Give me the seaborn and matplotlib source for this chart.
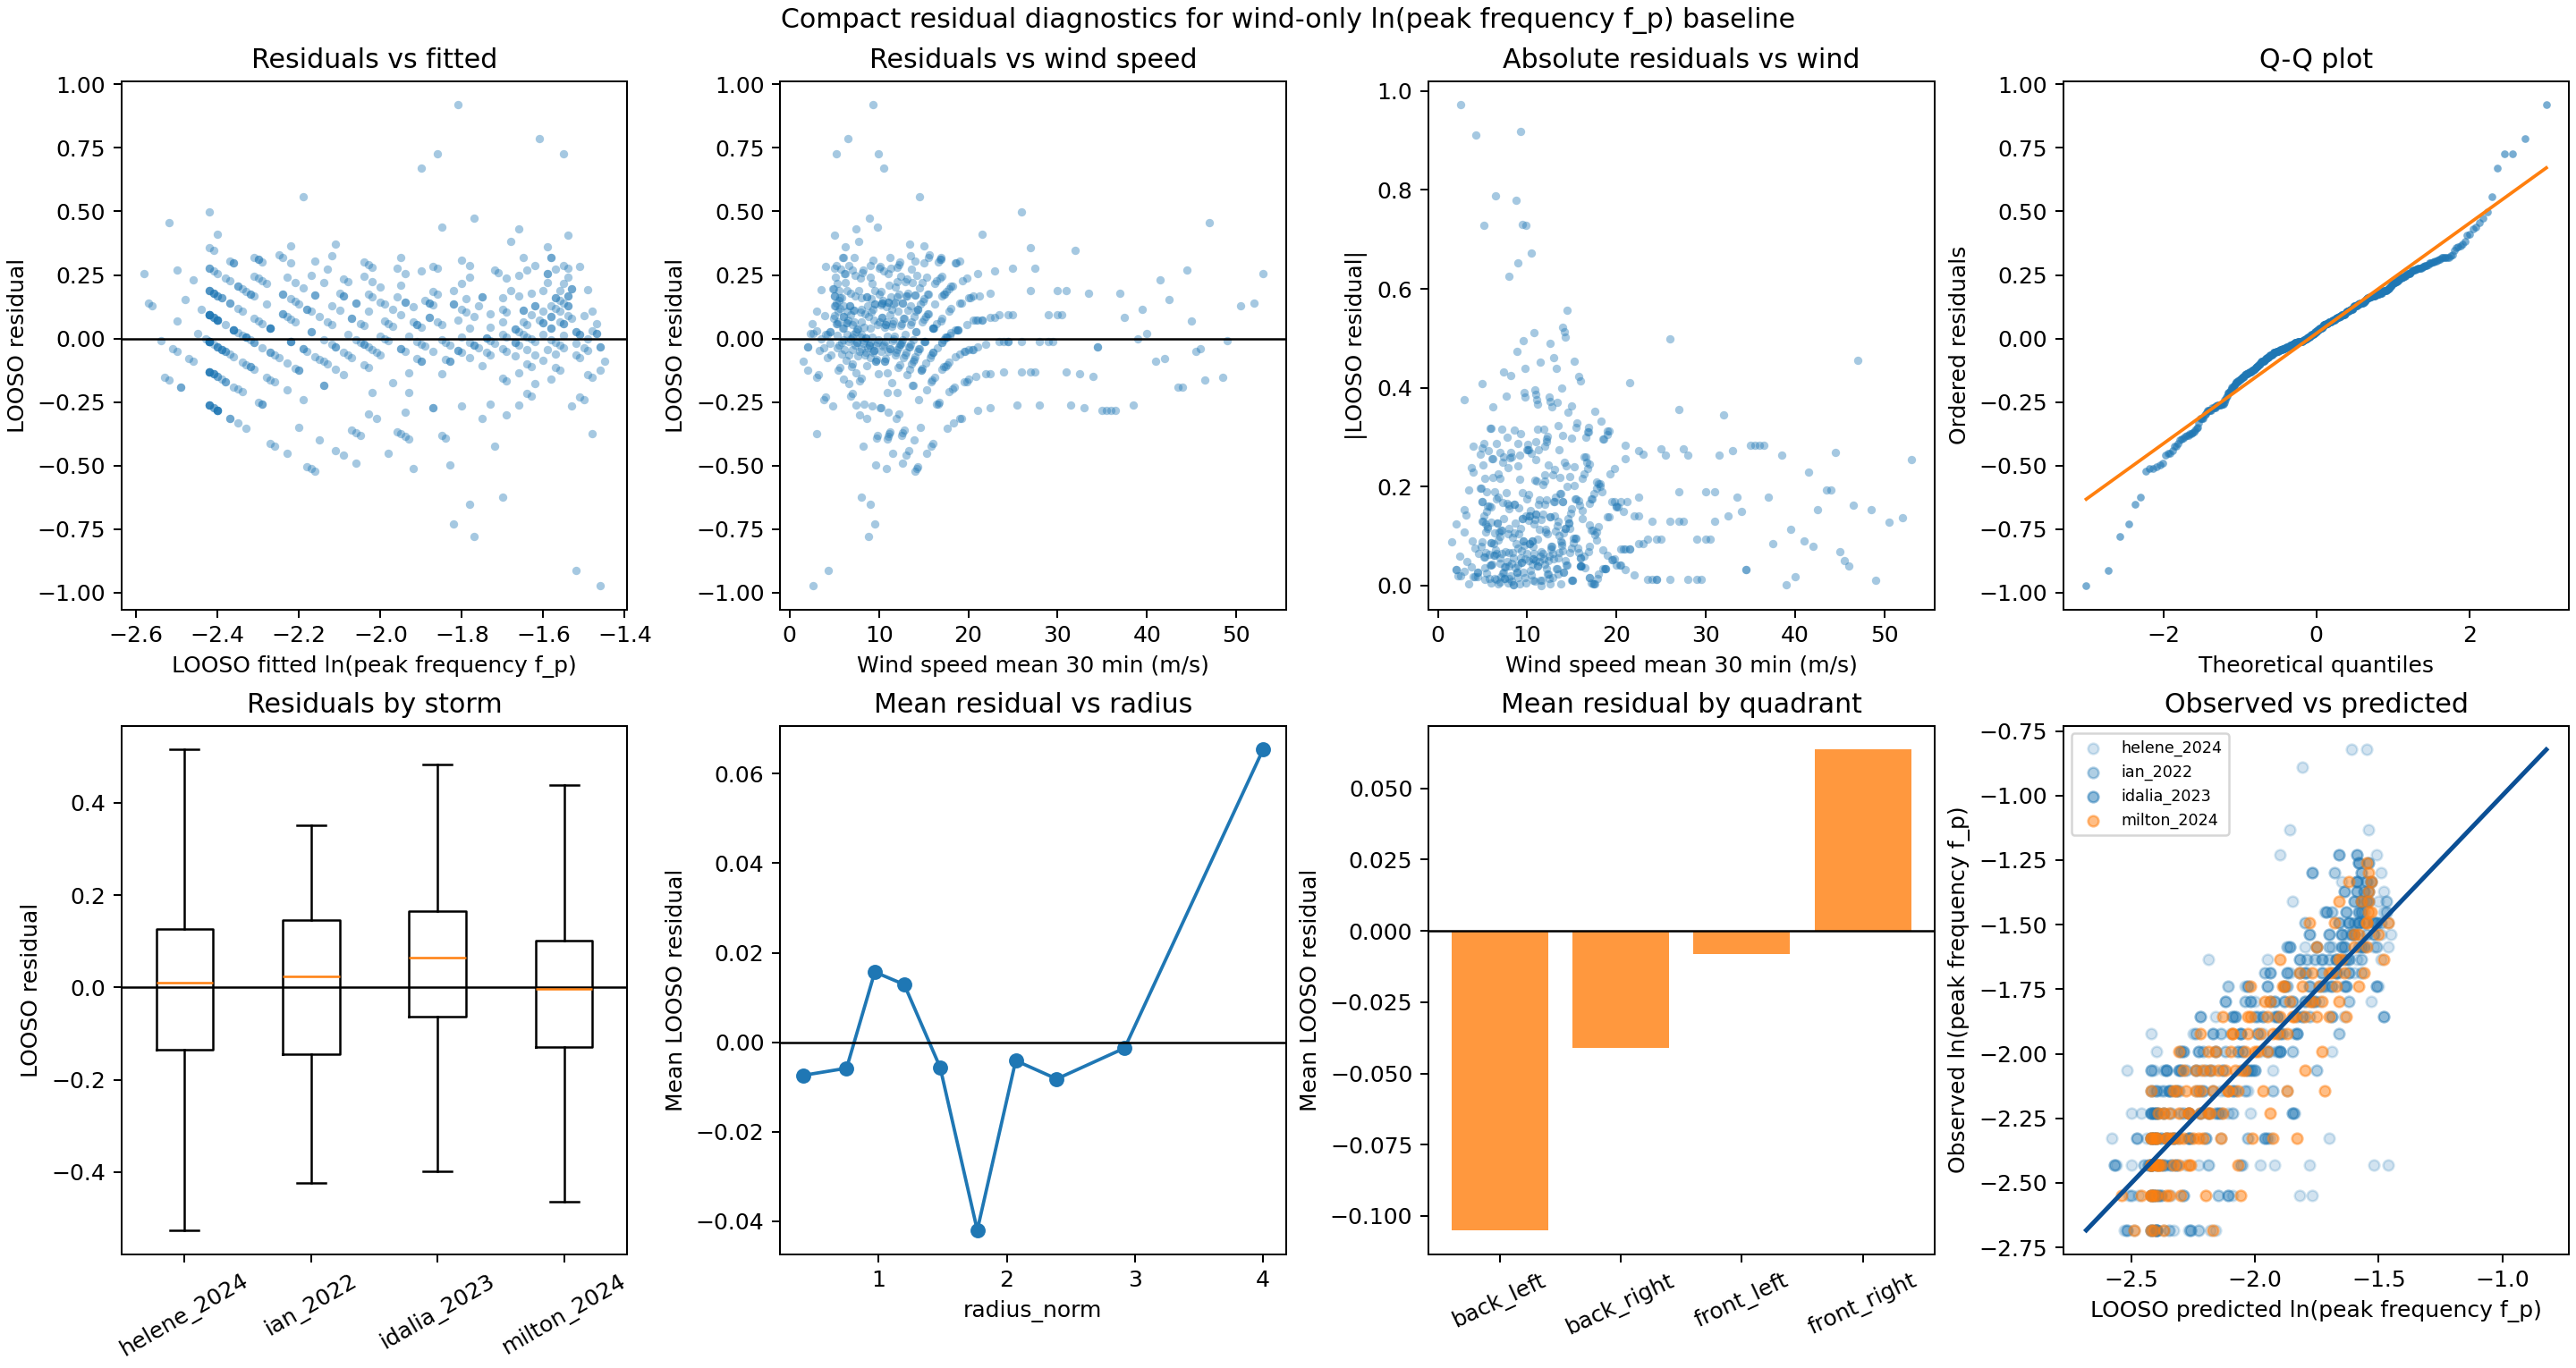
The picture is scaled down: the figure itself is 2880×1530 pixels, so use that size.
import numpy as np
import pandas as pd
import matplotlib
matplotlib.use("Agg")
import matplotlib.pyplot as plt
from matplotlib.ticker import MultipleLocator
import seaborn as sns
from statistics import NormalDist

# observed ln(f_p) levels (discrete spectral bins)
obs_levels = [-2.683, -2.550, -2.432, -2.326, -2.231, -2.144, -2.064, -1.990,
              -1.921, -1.856, -1.796, -1.739, -1.685, -1.633, -1.585, -1.538,
              -1.493, -1.451, -1.410, -1.371, -1.333, -1.297, -1.262, -1.228,
              -1.132, -1.103, -0.891, -0.822]

storms = ["helene_2024", "ian_2022", "idalia_2023", "milton_2024"]

# per storm: wind speed, LOOSO fitted ln(f_p), index into obs_levels
helene_wind = [
    1.5, 2.0, 2.3, 2.6, 3.0, 3.2, 3.5, 3.8, 4.0, 4.3,
    4.5, 4.8, 5.2, 5.0, 5.5, 6.0, 6.3, 6.5, 6.8, 7.0,
    7.2, 7.5, 7.8, 8.2, 8.5, 8.8, 9.3, 9.2, 9.5, 9.6,
    9.8, 10.0, 10.2, 9.9, 10.5, 10.7, 11.0, 11.2, 11.5, 11.8,
    12.0, 12.3, 12.6, 13.0, 13.2, 14.5, 13.5, 13.8, 14.0, 14.3,
    15.0, 15.3, 15.6, 16.0, 16.4, 16.8, 17.2, 17.6, 18.0, 18.5,
    19.0, 19.5, 20.0, 20.5, 21.0, 21.5, 22.0, 23.0, 24.0, 25.0,
    26.0, 27.0, 28.0, 29.0, 30.5, 32.0, 33.0, 34.0, 35.5, 36.5,
    37.0, 38.5, 41.5, 42.0, 43.5, 44.5, 46.0, 47.0, 48.5, 50.5,
    53.0, 9.0, 10.8, 11.5, 12.5, 8.0, 16.0, 14.0, 19.0,
    2.0, 2.6, 3.3, 3.9, 4.6, 5.4, 6.1, 6.7, 7.3, 7.9,
    8.5, 9.1, 9.7, 10.3, 10.9, 11.4, 12.1, 12.7, 13.4, 14.1,
    14.7, 15.4, 16.2, 16.9, 17.8, 18.7, 19.8, 21.0, 22.5, 24.5,
    27.5, 31.0, 34.5, 39.5, 45.0, 8.0, 9.4, 11.0, 12.4, 13.8,
    15.0, 17.0, 5.9, 4.2, 3.0, 7.0,
]
helene_fit = [
    -1.45, -1.46, -1.47, -1.46, -1.48, -1.49, -1.49, -1.50, -1.51, -1.52,
    -1.52, -1.53, -1.55, -1.54, -1.56, -1.58, -1.60, -1.61, -1.63, -1.64,
    -1.65, -1.67, -1.69, -1.72, -1.74, -1.77, -1.81, -1.80, -1.82, -1.83,
    -1.85, -1.86, -1.87, -1.86, -1.90, -1.91, -1.94, -1.95, -1.98, -2.00,
    -2.02, -2.04, -2.06, -2.09, -2.10, -2.19, -2.12, -2.14, -2.16, -2.18,
    -2.22, -2.23, -2.25, -2.27, -2.29, -2.30, -2.32, -2.33, -2.35, -2.36,
    -2.37, -2.38, -2.39, -2.40, -2.40, -2.40, -2.41, -2.41, -2.42, -2.42,
    -2.42, -2.42, -2.42, -2.42, -2.42, -2.41, -2.41, -2.40, -2.40, -2.40,
    -2.41, -2.42, -2.46, -2.47, -2.49, -2.50, -2.51, -2.52, -2.53, -2.56,
    -2.58, -1.78, -1.92, -1.98, -2.05, -1.70, -2.27, -2.16, -2.37,
    -1.46, -1.47, -1.49, -1.50, -1.52, -1.56, -1.59, -1.62, -1.66, -1.69,
    -1.74, -1.79, -1.84, -1.88, -1.93, -1.97, -2.03, -2.07, -2.11, -2.17,
    -2.20, -2.24, -2.28, -2.30, -2.34, -2.36, -2.38, -2.40, -2.41, -2.42,
    -2.42, -2.42, -2.40, -2.44, -2.50, -1.70, -1.81, -1.94, -2.04, -2.14,
    -2.22, -2.31, -1.58, -1.51, -1.48, -1.64,
]
helene_level = [
    15, 14, 17, 2, 19, 13, 21, 11, 23, 2,
    16, 10, 27, 24, 18, 22, 12, 27, 15, 9,
    20, 13, 7, 17, 11, 1, 26, 14, 1, 8,
    18, 12, 5, 24, 23, 9, 3, 13, 7, 10,
    4, 11, 6, 1, 8, 13, 5, 3, 9, 0,
    6, 2, 8, 4, 1, 7, 3, 0, 5, 2,
    6, 1, 4, 3, 0, 7, 2, 5, 1, 3,
    8, 4, 0, 2, 3, 6, 0, 1, 0, 0,
    4, 0, 4, 1, 0, 4, 1, 6, 0, 2,
    3, 2, 2, 2, 2, 3, 0, 0, 0,
    16, 17, 15, 18, 14, 17, 13, 16, 12, 14,
    10, 12, 8, 10, 6, 8, 5, 7, 4, 6,
    3, 5, 2, 4, 1, 3, 5, 2, 4, 3,
    1, 4, 2, 3, 2, 11, 9, 7, 6, 5,
    4, 3, 15, 16, 17, 13,
]

ian_wind = [
    3.5, 4.2, 5.0, 5.6, 6.2, 6.6, 7.1, 7.4, 7.9, 8.3,
    8.6, 9.1, 9.4, 9.7, 10.1, 10.3, 10.6, 10.9, 11.3, 11.6,
    11.9, 12.2, 12.4, 12.8, 13.1, 13.4, 13.7, 14.1, 14.4, 14.8,
    15.1, 15.5, 15.8, 16.2, 16.6, 17.0, 17.4, 17.8, 18.3, 18.8,
    19.3, 19.8, 20.4, 21.2, 22.5, 23.5, 25.5, 27.5, 29.5, 31.0,
    33.5, 36.0, 40.0, 45.5, 2.5, 6.0, 8.0, 9.9, 11.1, 12.6,
    13.9, 15.3, 16.9, 18.6, 20.8, 7.7, 9.3, 10.8, 14.6, 17.6,
    4.5, 5.3, 6.0, 6.8, 7.5, 8.2, 8.9, 9.6, 10.4, 11.2,
    12.0, 12.9, 13.8, 14.7, 16.0, 17.2, 18.0, 19.5, 6.4, 7.2,
    8.0, 8.7, 9.5, 10.2, 11.0, 11.8, 12.6, 13.5, 14.3, 15.2,
    16.4, 17.8, 21.5, 24.5, 5.8, 7.0, 9.0, 10.7, 12.3, 14.0,
]
ian_fit = [
    -1.49, -1.51, -1.54, -1.57, -1.59, -1.62, -1.65, -1.66, -1.69, -1.73,
    -1.75, -1.79, -1.81, -1.84, -1.87, -1.88, -1.90, -1.93, -1.96, -1.99,
    -2.01, -2.03, -2.04, -2.07, -2.09, -2.11, -2.14, -2.17, -2.19, -2.21,
    -2.22, -2.24, -2.26, -2.28, -2.29, -2.31, -2.32, -2.34, -2.35, -2.36,
    -2.37, -2.38, -2.39, -2.40, -2.41, -2.42, -2.42, -2.42, -2.42, -2.42,
    -2.41, -2.40, -2.45, -2.50, -1.47, -1.58, -1.70, -1.85, -1.95, -2.06,
    -2.15, -2.23, -2.30, -2.36, -2.40, -1.68, -1.80, -1.92, -2.20, -2.33,
    -1.52, -1.55, -1.58, -1.63, -1.67, -1.72, -1.77, -1.83, -1.89, -1.95,
    -2.02, -2.08, -2.14, -2.20, -2.27, -2.32, -2.35, -2.38, -1.60, -1.65,
    -1.70, -1.76, -1.82, -1.87, -1.94, -2.00, -2.06, -2.12, -2.18, -2.23,
    -2.29, -2.34, -2.40, -2.42, -1.57, -1.64, -1.78, -1.91, -2.04, -2.16,
]
ian_level = [
    16, 14, 18, 12, 20, 10, 15, 8, 17, 11,
    6, 13, 9, 4, 14, 10, 7, 5, 12, 9,
    6, 3, 10, 7, 4, 11, 8, 5, 2, 7,
    4, 8, 3, 6, 1, 5, 2, 4, 0, 3,
    5, 1, 2, 4, 1, 3, 0, 5, 2, 1,
    4, 0, 2, 1, 18, 16, 13, 7, 3, 2,
    1, 0, 7, 6, 3, 21, 16, 9, 6, 3,
    16, 15, 14, 13, 12, 11, 10, 9, 8, 7,
    6, 5, 4, 3, 3, 2, 3, 2, 16, 15,
    14, 13, 12, 11, 10, 9, 8, 7, 6, 5,
    4, 5, 3, 2, 13, 11, 9, 7, 5, 4,
]

idalia_wind = [
    4.8, 5.0, 5.2, 5.4, 5.5, 5.7, 5.8, 6.0, 6.1, 6.3,
    6.4, 6.6, 6.7, 6.9, 7.0, 7.2, 7.5, 7.8, 8.1, 8.4,
    8.7, 9.0, 9.3, 9.6, 10.0, 10.3, 10.6, 11.0, 11.4, 11.8,
    12.2, 12.6, 13.0, 13.5, 14.0, 14.5, 15.0, 15.5, 16.0, 16.6,
    17.2, 17.8, 18.5, 19.2, 20.0, 21.0, 22.5, 24.5, 27.0, 30.0,
    32.5, 35.0, 39.0, 42.5, 46.5, 52.0, 7.4, 8.9, 3.0, 4.0,
    11.2, 13.3, 15.8, 9.8, 6.2, 5.9, 12.9, 17.0, 19.8, 10.8,
    5.0, 5.3, 5.6, 5.8, 6.0, 6.2, 6.5, 6.8, 7.0, 7.3,
    7.6, 8.0, 8.3, 8.6, 9.0, 9.5, 9.8, 10.2, 10.7, 11.1,
    11.6, 12.0, 12.5, 13.1, 13.6, 14.2, 14.8, 15.3, 16.0, 16.8,
    17.5, 18.2, 19.0, 20.5, 23.0, 26.0, 4.5, 4.0, 5.5, 6.6,
    7.8, 9.2, 10.5, 12.2, 13.9,
]
idalia_fit = [
    -1.53, -1.54, -1.55, -1.56, -1.56, -1.57, -1.57, -1.58, -1.59, -1.60,
    -1.60, -1.62, -1.62, -1.63, -1.64, -1.65, -1.67, -1.69, -1.71, -1.73,
    -1.76, -1.78, -1.80, -1.83, -1.86, -1.88, -1.90, -1.94, -1.97, -2.00,
    -2.03, -2.06, -2.09, -2.12, -2.16, -2.19, -2.22, -2.24, -2.27, -2.29,
    -2.32, -2.34, -2.36, -2.37, -2.39, -2.40, -2.41, -2.42, -2.42, -2.42,
    -2.41, -2.40, -2.43, -2.48, -2.52, -2.57, -1.66, -1.77, -1.48, -1.51,
    -1.96, -2.11, -2.26, -1.85, -1.59, -1.58, -2.08, -2.31, -2.38, -1.92,
    -1.54, -1.55, -1.57, -1.57, -1.58, -1.59, -1.61, -1.63, -1.64, -1.66,
    -1.67, -1.70, -1.73, -1.75, -1.78, -1.82, -1.85, -1.87, -1.91, -1.95,
    -1.99, -2.02, -2.05, -2.09, -2.13, -2.17, -2.21, -2.23, -2.27, -2.30,
    -2.33, -2.35, -2.37, -2.40, -2.41, -2.42, -1.52, -1.51, -1.56, -1.62,
    -1.69, -1.80, -1.90, -2.03, -2.15,
]
idalia_level = [
    20, 22, 18, 16, 19, 21, 14, 17, 20, 15,
    18, 13, 16, 11, 19, 14, 12, 9, 17, 13,
    10, 15, 12, 8, 14, 11, 7, 12, 9, 6,
    11, 8, 5, 10, 7, 4, 9, 6, 3, 7,
    5, 2, 6, 4, 1, 5, 3, 2, 6, 4,
    1, 0, 2, 3, 0, 2, 23, 21, 9, 11,
    3, 1, 0, 4, 23, 22, 9, 6, 3, 10,
    19, 20, 17, 18, 16, 19, 15, 17, 14, 16,
    13, 15, 12, 14, 11, 13, 10, 12, 9, 11,
    8, 10, 7, 9, 6, 8, 5, 7, 4, 6,
    3, 5, 2, 4, 3, 2, 15, 16, 14, 12,
    11, 10, 8, 6, 4,
]

milton_wind = [
    4.9, 5.0, 5.1, 5.2, 5.3, 5.4, 5.6, 6.0, 6.4, 6.8,
    7.1, 7.4, 7.7, 8.0, 8.3, 8.6, 8.9, 9.2, 9.5, 9.8,
    10.1, 10.4, 10.7, 11.0, 11.3, 11.6, 11.9, 12.2, 12.5, 12.8,
    13.1, 13.4, 13.7, 14.0, 14.3, 14.6, 14.9, 15.2, 15.5, 15.8,
    16.1, 16.4, 16.7, 17.0, 17.3, 17.6, 18.0, 18.4, 18.8, 19.2,
    19.6, 20.2, 20.8, 21.5, 22.5, 23.5, 25.0, 27.0, 29.0, 31.5,
    34.5, 37.5, 41.0, 44.0, 49.0, 3.0, 3.8, 2.0, 6.6, 7.3,
    9.0, 10.5, 12.0, 13.6, 15.0, 16.9, 8.2, 10.9, 12.6, 14.2,
    9.6, 11.4, 13.9, 17.9, 20.5,
    22.0, 26.0, 18.2, 20.0, 24.0, 17.0, 15.9, 28.0, 21.0, 18.5,
    17.4, 16.5, 15.7, 14.8, 30.0, 19.0, 17.0, 16.0, 15.1, 14.4,
    13.6, 17.5, 16.2, 15.0, 14.1, 13.3, 12.7, 15.4, 14.3, 13.5,
    12.9, 12.3, 14.5, 13.2, 12.4, 11.7, 11.2, 13.0, 12.1, 11.5,
    10.9, 10.2, 12.0, 11.2, 10.6, 9.9, 9.3, 8.6, 8.0, 11.0,
    10.0, 9.0, 8.4, 10.3, 9.4, 8.5, 7.6, 8.8, 7.9, 7.0,
    7.4, 6.4, 6.0, 5.3, 5.0, 5.1, 4.9, 5.2,
]
milton_fit = [
    -1.53, -1.54, -1.54, -1.55, -1.55, -1.56, -1.57, -1.58, -1.60, -1.63,
    -1.65, -1.66, -1.68, -1.70, -1.73, -1.75, -1.77, -1.80, -1.82, -1.84,
    -1.87, -1.89, -1.91, -1.94, -1.96, -1.99, -2.01, -2.03, -2.05, -2.07,
    -2.09, -2.11, -2.14, -2.16, -2.18, -2.20, -2.21, -2.23, -2.24, -2.26,
    -2.27, -2.29, -2.30, -2.31, -2.32, -2.33, -2.35, -2.36, -2.36, -2.37,
    -2.38, -2.39, -2.40, -2.40, -2.41, -2.42, -2.42, -2.42, -2.42, -2.42,
    -2.40, -2.41, -2.46, -2.49, -2.54, -1.48, -1.50, -1.46, -1.62, -1.66,
    -1.78, -1.90, -2.02, -2.13, -2.22, -2.31, -1.72, -1.93, -2.06, -2.17,
    -1.83, -1.97, -2.15, -2.34, -2.39,
    -2.41, -2.42, -2.35, -2.39, -2.42, -2.31, -2.27, -2.42, -2.40, -2.36,
    -2.33, -2.29, -2.25, -2.21, -2.42, -2.37, -2.31, -2.27, -2.22, -2.19,
    -2.13, -2.33, -2.28, -2.22, -2.17, -2.11, -2.07, -2.24, -2.18, -2.12,
    -2.08, -2.04, -2.19, -2.10, -2.04, -2.00, -1.95, -2.09, -2.03, -1.98,
    -1.93, -1.87, -2.02, -1.95, -1.90, -1.85, -1.80, -1.75, -1.70, -1.94,
    -1.86, -1.78, -1.73, -1.88, -1.81, -1.74, -1.67, -1.77, -1.69, -1.64,
    -1.66, -1.60, -1.58, -1.55, -1.54, -1.54, -1.53, -1.55,
]
milton_level = [
    17, 19, 21, 16, 14, 12, 18, 11, 15, 9,
    13, 10, 16, 12, 7, 14, 10, 6, 12, 9,
    5, 11, 8, 4, 10, 7, 3, 9, 6, 2,
    8, 5, 3, 7, 4, 1, 6, 3, 5, 2,
    4, 6, 1, 3, 5, 2, 4, 1, 3, 0,
    2, 4, 1, 3, 0, 2, 5, 1, 3, 0,
    2, 3, 1, 0, 1, 13, 15, 16, 20, 18,
    16, 13, 11, 9, 8, 7, 5, 3, 1, 0,
    3, 5, 6, 3, 2,
    1, 1, 1, 2, 2, 2, 2, 2, 3, 3,
    3, 3, 3, 3, 3, 4, 4, 4, 4, 4,
    4, 5, 5, 5, 5, 5, 5, 6, 6, 6,
    6, 6, 7, 7, 7, 7, 7, 8, 8, 8,
    8, 8, 9, 9, 9, 9, 9, 9, 9, 10,
    10, 10, 10, 11, 11, 11, 11, 12, 12, 12,
    13, 14, 15, 16, 17, 18, 20, 22,
]

# summary statistics of the per-storm boxes (whiskers at 1.5 IQR, no fliers)
box_whislo = [-0.526, -0.424, -0.399, -0.465]
box_q1 = [-0.135, -0.144, -0.063, -0.130]
box_med = [0.010, 0.023, 0.064, -0.003]
box_q3 = [0.127, 0.146, 0.165, 0.102]
box_whishi = [0.515, 0.352, 0.483, 0.439]

# binned mean residual vs normalised radius
radius_norm = [0.41, 0.75, 0.97, 1.20, 1.48, 1.77, 2.07, 2.39, 2.92, 4.00]
radius_mean_resid = [-0.0074, -0.0058, 0.0157, 0.0129, -0.0056, -0.0420,
                     -0.0041, -0.0082, -0.0013, 0.0654]

# mean residual by storm-relative quadrant
quadrants = ["back_left", "back_right", "front_left", "front_right"]
quadrant_mean_resid = [-0.105, -0.041, -0.0082, 0.0636]

storm_colors = ["C0", "C0", "C0", "C1"]
storm_alphas = [0.2, 0.35, 0.5, 0.5]

# assemble one table
levels = np.array(obs_levels)
frames = []
for name, w, f, lv in [
    ("helene_2024", helene_wind, helene_fit, helene_level),
    ("ian_2022", ian_wind, ian_fit, ian_level),
    ("idalia_2023", idalia_wind, idalia_fit, idalia_level),
    ("milton_2024", milton_wind, milton_fit, milton_level),
]:
    frames.append(pd.DataFrame({"storm": name, "wind": w, "fitted": f,
                                "observed": levels[lv]}))
df = pd.concat(frames, ignore_index=True)
df["residual"] = df["observed"] - df["fitted"]
df["abs_residual"] = df["residual"].abs()

fig, axes = plt.subplots(2, 4, figsize=(16, 8.5), layout="constrained")
fig.suptitle("Compact residual diagnostics for wind-only ln(peak frequency f_p) baseline")

pt = dict(color="C0", alpha=0.4, s=14, linewidth=0)

# residuals vs fitted
ax = axes[0, 0]
sns.scatterplot(data=df, x="fitted", y="residual", ax=ax, **pt)
ax.axhline(0, color="black", lw=1)
ax.set_title("Residuals vs fitted")
ax.set_xlabel("LOOSO fitted ln(peak frequency f_p)")
ax.set_ylabel("LOOSO residual")

# residuals vs wind
ax = axes[0, 1]
sns.scatterplot(data=df, x="wind", y="residual", ax=ax, **pt)
ax.axhline(0, color="black", lw=1)
ax.set_title("Residuals vs wind speed")
ax.set_xlabel("Wind speed mean 30 min (m/s)")
ax.set_ylabel("LOOSO residual")

# absolute residuals vs wind
ax = axes[0, 2]
sns.scatterplot(data=df, x="wind", y="abs_residual", ax=ax, **pt)
ax.set_title("Absolute residuals vs wind")
ax.set_xlabel("Wind speed mean 30 min (m/s)")
ax.set_ylabel("|LOOSO residual|")

# Q-Q plot
ax = axes[0, 3]
ordered = np.sort(df["residual"].to_numpy())
n = len(ordered)
pos = (np.arange(1, n + 1) - 0.3175) / (n + 0.365)
pos[-1] = 0.5 ** (1.0 / n)
pos[0] = 1 - pos[-1]
theo = np.array([NormalDist().inv_cdf(p) for p in pos])
slope, intercept = np.polyfit(theo, ordered, 1)
sns.scatterplot(x=theo, y=ordered, ax=ax, color="C0", alpha=0.6, s=12, linewidth=0)
ax.plot(theo, slope * theo + intercept, color="C1", lw=1.5)
ax.xaxis.set_major_locator(MultipleLocator(2))
ax.set_title("Q-Q plot")
ax.set_xlabel("Theoretical quantiles")
ax.set_ylabel("Ordered residuals")

# residuals by storm
ax = axes[1, 0]
stats = [dict(label=s, whislo=a, q1=b, med=c, q3=d, whishi=e, fliers=[])
         for s, a, b, c, d, e in zip(storms, box_whislo, box_q1, box_med, box_q3, box_whishi)]
ax.bxp(stats, showfliers=False)
ax.axhline(0, color="black", lw=1)
ax.set_title("Residuals by storm")
ax.set_ylabel("LOOSO residual")
ax.tick_params(axis="x", labelrotation=30)

# mean residual vs radius
ax = axes[1, 1]
sns.lineplot(x=radius_norm, y=radius_mean_resid, ax=ax, color="C0", marker="o",
             markersize=6, markeredgecolor="C0")
ax.axhline(0, color="black", lw=1)
ax.set_title("Mean residual vs radius")
ax.set_xlabel("radius_norm")
ax.set_ylabel("Mean LOOSO residual")

# mean residual by quadrant
ax = axes[1, 2]
sns.barplot(x=quadrants, y=quadrant_mean_resid, ax=ax, color="C1", saturation=1, alpha=0.8)
ax.autoscale(enable=True, axis="x")
ax.axhline(0, color="black", lw=1)
ax.set_title("Mean residual by quadrant")
ax.set_ylabel("Mean LOOSO residual")
ax.tick_params(axis="x", labelrotation=25)

# observed vs predicted
ax = axes[1, 3]
for name, col, a in zip(storms, storm_colors, storm_alphas):
    sub = df[df["storm"] == name]
    sns.scatterplot(data=sub, x="fitted", y="observed", ax=ax, color=col, alpha=a,
                    s=22, edgecolor=col, linewidth=1, label=name)
lo = min(df["fitted"].min(), df["observed"].min())
hi = max(df["fitted"].max(), df["observed"].max())
ax.plot([lo, hi], [lo, hi], color="#0b4f95", lw=2)
ax.set_title("Observed vs predicted")
ax.set_xlabel("LOOSO predicted ln(peak frequency f_p)")
ax.set_ylabel("Observed ln(peak frequency f_p)")
ax.legend(loc="upper left", fontsize=7)

fig.savefig("out.png", dpi=180)
